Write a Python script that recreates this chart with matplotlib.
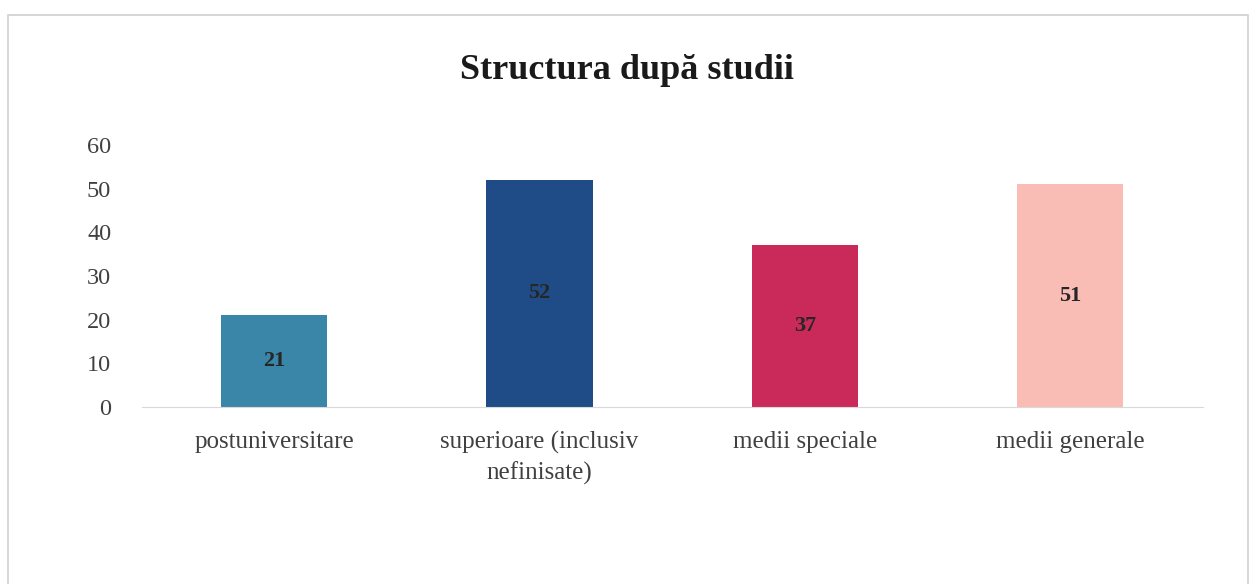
import matplotlib.pyplot as plt
from matplotlib.patches import Rectangle

categories = ['postuniversitare', 'superioare (inclusiv\nnefinisate)', 'medii speciale', 'medii generale']
values = [21, 52, 37, 51]
colors = ['#3a86a8', '#1f4b87', '#c92a5a', '#f9bdb5']

plt.rcParams['font.family'] = ['Liberation Serif', 'DejaVu Serif']

fig = plt.figure(figsize=(12.54, 5.84), dpi=100)
ax = fig.add_axes([0.113, 0.303, 0.846, 0.449])

x = range(len(categories))
bars = ax.bar(x, values, width=0.4, color=colors)
ax.bar_label(bars, labels=[str(v) for v in values], label_type='center',
             fontsize=16, fontweight='bold', color='#262626')

ax.set_xlim(-0.5, len(categories) - 0.5)
ax.set_ylim(0, 60)
ax.set_yticks(range(0, 61, 10))
ax.set_xticks(list(x))
ax.set_xticklabels(categories, fontsize=18, color='#404040', linespacing=1.45)
ax.tick_params(axis='y', labelsize=17.5, labelcolor='#404040', length=0, pad=22)
ax.tick_params(axis='x', length=0, pad=17)

for s in ['top', 'right', 'left']:
    ax.spines[s].set_visible(False)
ax.spines['bottom'].set_color('#d9d9d9')

fig.text(0.5, 0.88, 'Structura după studii', ha='center', va='center',
         fontsize=26, fontweight='bold', color='#1a1a1a')

# light frame around the chart, like the scanned page
fig.patches.append(Rectangle((0.006, -0.01), 0.989, 0.985, transform=fig.transFigure,
                             fill=False, edgecolor='#d0d0d0', linewidth=1.2))

fig.savefig('out.png', dpi=100)
